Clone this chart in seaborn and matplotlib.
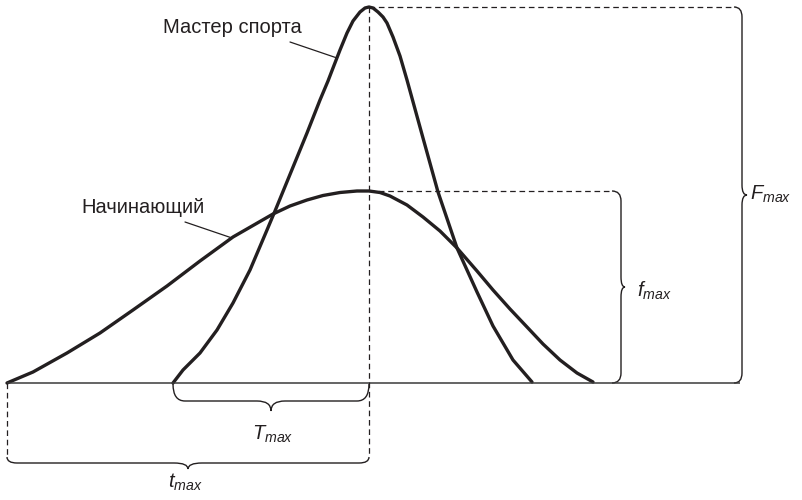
import numpy as np
import pandas as pd
import matplotlib
matplotlib.use("Agg")
import matplotlib.pyplot as plt
from matplotlib.path import Path
from matplotlib.patches import PathPatch
import seaborn as sns

sns.set_theme(style="white")
plt.rcParams['font.family'] = ['Liberation Sans', 'DejaVu Sans']
plt.rcParams['mathtext.fontset'] = 'custom'
plt.rcParams['mathtext.it'] = 'Liberation Sans:italic'
plt.rcParams['mathtext.rm'] = 'Liberation Sans'

# ---- data (time on x, force on y; baseline = 0) ----
beginner_t = [7, 33, 67, 100, 133, 167, 200, 233, 273, 290, 307, 323, 340, 357, 369,
              380, 390, 407, 423, 440, 457, 477, 493, 510, 527, 543, 560, 577, 593]
beginner_f = [0, 11, 30, 50, 73, 97, 122, 146, 169, 177, 183, 187.5, 190.5, 192, 192,
              190.5, 187, 178, 166, 152, 135, 112, 93, 74, 56, 39, 23, 10, 1]
master_t = [173, 183, 200, 217, 233, 250, 267, 275, 307, 320, 328, 333, 340, 347, 353, 360, 365,
            369, 373, 378, 383, 387, 393, 400, 407, 423, 438, 457, 477, 493, 513, 532]
master_f = [0, 13, 30, 53, 80, 113, 153, 172, 250, 283, 302, 315, 333, 350, 362, 371, 375,
            376, 375, 371, 366, 360, 346, 327, 303, 245, 191, 135, 91, 57, 23, 1]
labels = ["Начинающий", "Мастер спорта"]
t_start_beg, t_start_master, t_peak = 7, 173, 369
f_peak, F_peak = 192, 376

df = pd.concat([
    pd.DataFrame({"t": beginner_t, "F": beginner_f, "who": labels[0]}),
    pd.DataFrame({"t": master_t, "F": master_f, "who": labels[1]}),
])

INK = "#231f20"
fig = plt.figure(figsize=(8.03, 5.00), dpi=100)
ax = fig.add_axes([0, 0, 1, 1])
ax.set_xlim(0, 803)
ax.set_ylim(-117, 383)
ax.axis("off")

sns.lineplot(data=df, x="t", y="F", hue="who", palette=[INK, INK], estimator=None,
             sort=False, legend=False, lw=2.4, solid_joinstyle="round", ax=ax)

# baseline
ax.plot([t_start_beg, 740], [0, 0], color="#3a3a3a", lw=1.1, solid_capstyle="butt")

dash = dict(color=INK, lw=0.9, linestyle=(0, (4.5, 3)))
ax.plot([t_peak, t_peak], [F_peak, -74], **dash)
ax.plot([t_start_beg, t_start_beg], [0, -74], **dash)
ax.plot([t_peak, 735], [F_peak, F_peak], **dash)
ax.plot([t_peak, 613], [f_peak, f_peak], **dash)


def vbrace(x, ylo, yhi, dx1, dx2, cy):
    ym = (ylo + yhi) / 2
    verts = [(x, yhi), (x + dx1, yhi), (x + dx1, yhi - cy),
             (x + dx1, ym + cy),
             (x + dx1, ym), (x + dx2, ym),
             (x + dx1, ym), (x + dx1, ym - cy),
             (x + dx1, ylo + cy),
             (x + dx1, ylo), (x, ylo)]
    codes = [Path.MOVETO, Path.CURVE3, Path.CURVE3, Path.LINETO, Path.CURVE3, Path.CURVE3,
             Path.CURVE3, Path.CURVE3, Path.LINETO, Path.CURVE3, Path.CURVE3]
    ax.add_patch(PathPatch(Path(verts, codes), fill=False, ec=INK, lw=1.0))


def hbrace(y, xlo, xhi, dy1, dy2, cx, ce=None):
    ce = cx if ce is None else ce
    xm = (xlo + xhi) / 2
    verts = [(xlo, y), (xlo, y - dy1), (xlo + ce, y - dy1),
             (xm - cx, y - dy1),
             (xm, y - dy1), (xm, y - dy2),
             (xm, y - dy1), (xm + cx, y - dy1),
             (xhi - ce, y - dy1),
             (xhi, y - dy1), (xhi, y)]
    codes = [Path.MOVETO, Path.CURVE3, Path.CURVE3, Path.LINETO, Path.CURVE3, Path.CURVE3,
             Path.CURVE3, Path.CURVE3, Path.LINETO, Path.CURVE3, Path.CURVE3]
    ax.add_patch(PathPatch(Path(verts, codes), fill=False, ec=INK, lw=1.0))


vbrace(734, 0, F_peak, 8, 13, 10)
vbrace(612, 0, f_peak, 9, 13, 10)
hbrace(-1, t_start_master, t_peak, 17, 27, 14, 12)
hbrace(-74, t_start_beg, t_peak, 6, 12, 14, 10)

fs = 14.5
ax.text(163, 350, labels[1], fontsize=fs, color=INK, ha="left", va="baseline")
ax.text(81, 170, labels[0], fontsize=fs, color=INK, ha="left", va="baseline")
ax.plot([290, 337], [341, 325], color=INK, lw=0.9)
ax.plot([185, 232], [161, 145], color=INK, lw=0.9)

ax.text(750, 183, r"$F_{max}$", fontsize=fs, color=INK, ha="left", va="baseline")
ax.text(637, 86, r"$f_{max}$", fontsize=fs, color=INK, ha="left", va="baseline")
ax.text(252, -57, r"$T_{max}$", fontsize=fs, color=INK, ha="left", va="baseline")
ax.text(168, -105, r"$t_{max}$", fontsize=fs, color=INK, ha="left", va="baseline")

fig.savefig("out.png", dpi=100, facecolor="white")
